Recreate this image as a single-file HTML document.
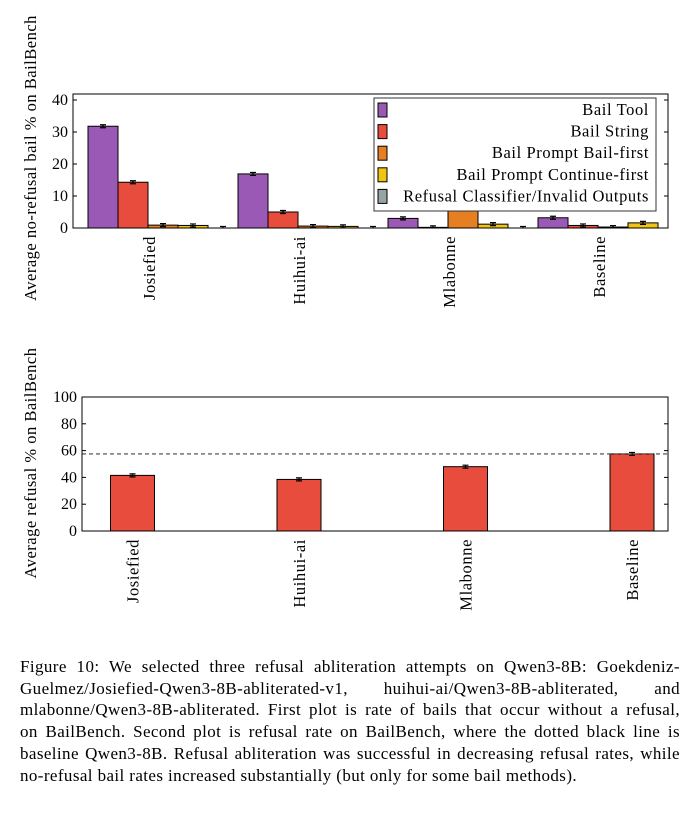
<!DOCTYPE html>
<html><head><meta charset="utf-8"><style>
body{margin:0;background:#fff;width:700px;height:828px;overflow:hidden;position:relative;font-family:"Liberation Serif",serif;}
svg{position:absolute;left:0;top:0;}
svg text{font-family:"Liberation Serif",serif;fill:#000;}
#caption{position:absolute;left:20px;top:656px;width:660px;font-size:17px;letter-spacing:0.4px;line-height:21.7px;color:#000;}
#caption div{text-align:justify;text-align-last:justify;white-space:nowrap;}
#caption div.last{text-align-last:left;}
</style></head><body>
<svg id="chart" width="700" height="828"></svg>
<div id="caption">
<div>Figure 10: We selected three refusal abliteration attempts on Qwen3-8B: Goekdeniz-</div>
<div>Guelmez/Josiefied-Qwen3-8B-abliterated-v1, &nbsp; huihui-ai/Qwen3-8B-abliterated, &nbsp; and</div>
<div>mlabonne/Qwen3-8B-abliterated. First plot is rate of bails that occur without a refusal,</div>
<div>on BailBench. Second plot is refusal rate on BailBench, where the dotted black line is</div>
<div>baseline Qwen3-8B. Refusal abliteration was successful in decreasing refusal rates, while</div>
<div class="last">no-refusal bail rates increased substantially (but only for some bail methods).</div>
</div>
<script>
const categories = ["Josiefied","Huihui-ai","Mlabonne","Baseline"];
const seriesNames = ["Bail Tool","Bail String","Bail Prompt Bail-first","Bail Prompt Continue-first","Refusal Classifier/Invalid Outputs"];
const seriesColors = ["#9b59b6","#e74c3c","#e67e22","#f1c40f","#95a5a6"];
const bailTool = [31.8, 16.9, 3.0, 3.2];
const bailString = [14.3, 5.0, 0.2, 0.8];
const bailFirst = [0.9, 0.6, 20.0, 0.3];
const continueFirst = [0.8, 0.5, 1.2, 1.6];
const refusalClassifier = [0, 0, 0, 0];
const topTicks = [0, 10, 20, 30, 40];
const refusalRate = [41.5, 38.5, 48.0, 57.5];
const baselineRefusal = 57.5;
const bottomTicks = [0, 20, 40, 60, 80, 100];

const NS = "http://www.w3.org/2000/svg";
const svg = document.getElementById("chart");
function mk(tag, attrs, parent){const e=document.createElementNS(NS,tag);for(const k in attrs)e.setAttribute(k,attrs[k]);(parent||svg).appendChild(e);return e;}
const FS = 16.5, LS = 0.6;

// ---- top chart ----
const T = {l:73, r:668, t:94, b:228, max:40, yTop:100};
const ty = v => T.b - (T.b - T.yTop) * v / T.max;
const tx = i => 149 + 150 * i;
const allSeries = [bailTool, bailString, bailFirst, continueFirst, refusalClassifier];
const bw = 30;
const g1 = mk("g", {});


const clipDef = mk("clipPath", {id:"topclip"}, g1);
mk("rect", {x:T.l, y:T.t, width:T.r-T.l, height:T.b-T.t}, clipDef);
const barsG = mk("g", {"clip-path":"url(#topclip)"}, g1);
allSeries.forEach((s, si) => {
  s.forEach((v, ci) => {
    const x0 = tx(ci) - 61 + si * bw;
    const r = mk("rect", {x:x0, y:ty(v), width:bw, height:Math.max(0, T.b-ty(v)), fill:seriesColors[si], stroke:"#000", "stroke-width":1}, barsG);
    
    
    const cx = x0 + bw/2;
    const e = mk("path", {d:`M${cx-3},${ty(v)-1.5}H${cx+3}M${cx},${ty(v)-1.5}V${ty(v)+1.5}M${cx-3},${ty(v)+1.5}H${cx+3}`, stroke:"#000", "stroke-width":1.2, fill:"none"}, barsG);
    
    
  });
});
mk("rect", {x:T.l, y:T.t, width:T.r-T.l, height:T.b-T.t, fill:"none", stroke:"#000", "stroke-width":1}, g1);
topTicks.forEach(t => {
  const y = ty(t);
  mk("line", {x1:T.l, x2:T.l+4, y1:y, y2:y, stroke:"#000"}, g1);
  mk("line", {x1:T.r-4, x2:T.r, y1:y, y2:y, stroke:"#000"}, g1);
  const lt = mk("text", {x:T.l-5, y:y+5, "text-anchor":"end", "font-size":16}, g1);
  lt.textContent = t;
  
  
});
categories.forEach((c, i) => {
  const t = mk("text", {transform:`translate(${tx(i)+6},236) rotate(-90)`, "text-anchor":"end", "font-size":FS, "letter-spacing":LS}, g1);
  t.textContent = c;
  
  
});
const yt1 = mk("text", {transform:"translate(36,158) rotate(-90)", "text-anchor":"middle", "font-size":FS, "letter-spacing":0.5}, g1);
yt1.textContent = "Average no-refusal bail % on BailBench";


// legend
const lg = mk("g", {}, g1);


mk("rect", {x:374, y:98, width:282, height:113, fill:"#fff", stroke:"#333", "stroke-width":1}, lg);
seriesNames.forEach((n, i) => {
  const y = 110 + i * 21.6;
  const sw = mk("rect", {x:378, y:y-7, width:9, height:14, fill:seriesColors[i], stroke:"#000", "stroke-width":1}, lg);
  
  
  const t = mk("text", {x:649, y:y+5, "text-anchor":"end", "font-size":FS, "letter-spacing":LS}, lg);
  t.textContent = n;
  
  
});

// ---- bottom chart ----
const B = {l:82, r:668, t:397, b:531, max:100};
const by = v => B.b - (B.b - B.t) * v / B.max;
const bx = i => 132.5 + 166.5 * i;
const g2 = mk("g", {});


refusalRate.forEach((v, i) => {
  const r = mk("rect", {x:bx(i)-22, y:by(v), width:44, height:B.b-by(v), fill:"#e74c3c", stroke:"#000", "stroke-width":1}, g2);
  
  
  const cx = bx(i), y = by(v);
  const e = mk("path", {d:`M${cx-3},${y-1.5}H${cx+3}M${cx},${y-1.5}V${y+1.5}M${cx-3},${y+1.5}H${cx+3}`, stroke:"#000", "stroke-width":1.2, fill:"none"}, g2);
  
  
});
const dl = mk("line", {x1:B.l, x2:B.r, y1:by(baselineRefusal), y2:by(baselineRefusal), stroke:"#444", "stroke-width":1.2, "stroke-dasharray":"4,3"}, g2);


mk("rect", {x:B.l, y:B.t, width:B.r-B.l, height:B.b-B.t, fill:"none", stroke:"#000", "stroke-width":1}, g2);
bottomTicks.forEach(t => {
  const y = by(t);
  mk("line", {x1:B.l, x2:B.l+4, y1:y, y2:y, stroke:"#000"}, g2);
  mk("line", {x1:B.r-4, x2:B.r, y1:y, y2:y, stroke:"#000"}, g2);
  const lt = mk("text", {x:B.l-5, y:y+5, "text-anchor":"end", "font-size":16}, g2);
  lt.textContent = t;
  
  
});
categories.forEach((c, i) => {
  const t = mk("text", {transform:`translate(${bx(i)+6},539) rotate(-90)`, "text-anchor":"end", "font-size":FS, "letter-spacing":LS}, g2);
  t.textContent = c;
  
  
});
const yt2 = mk("text", {transform:"translate(36,463) rotate(-90)", "text-anchor":"middle", "font-size":FS, "letter-spacing":0.5}, g2);
yt2.textContent = "Average refusal % on BailBench";


</script>
</body></html>
